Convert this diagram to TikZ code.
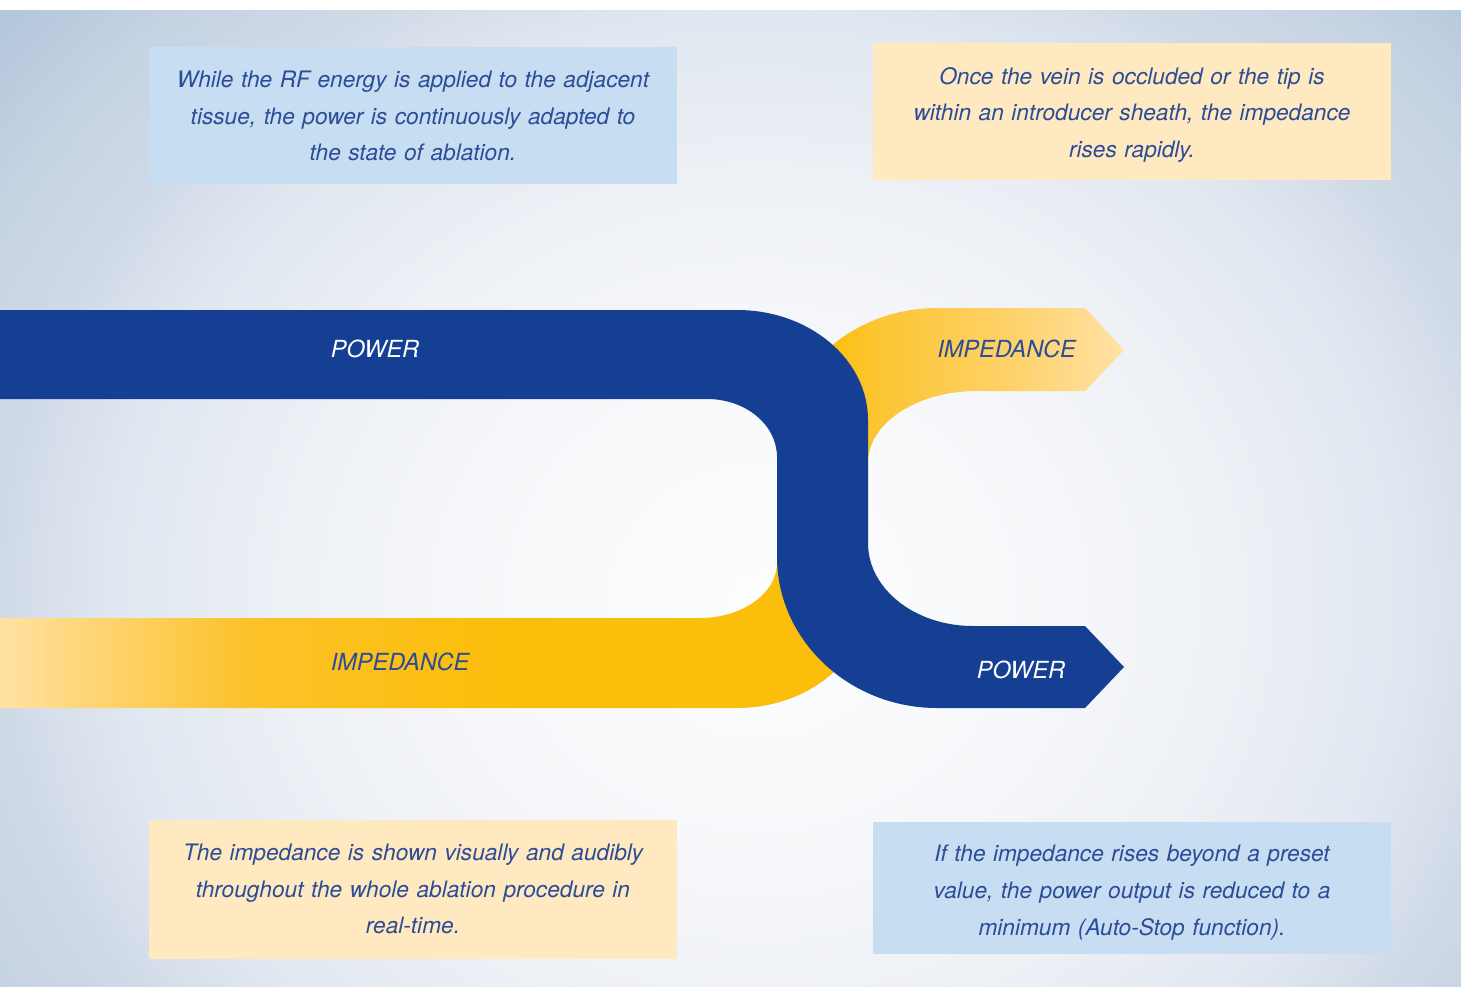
\documentclass[tikz,border=0pt]{standalone}
\usepackage{fontspec}
\setmainfont{TeX Gyre Heros}
\definecolor{pblue}{HTML}{143F93}
\definecolor{ptext}{HTML}{2C4C97}
\definecolor{boxblue}{HTML}{C7DDF2}
\definecolor{boxyel}{HTML}{FFE9C0}
\definecolor{bg0}{HTML}{FCFDFD}
\definecolor{bg1}{HTML}{F8F9FB}
\definecolor{bg2}{HTML}{EDF0F5}
\definecolor{bg3}{HTML}{E1E8F1}
\definecolor{bg4}{HTML}{D0DAE7}
\definecolor{bg5}{HTML}{C4D2E2}
\definecolor{bg6}{HTML}{B4C6DC}
\definecolor{bg7}{HTML}{A6BBD8}
\definecolor{y0}{HTML}{FFE1A2}
\definecolor{y1}{HTML}{FCC22A}
\definecolor{y2}{HTML}{FBBE0A}
\definecolor{y3}{HTML}{FCC532}
\definecolor{y4}{HTML}{FED26A}
\definecolor{y5}{HTML}{FFE2A6}
\pgfdeclareradialshading{bgshade}{\pgfpoint{0bp}{0bp}}{color(0bp)=(bg0); color(6bp)=(bg1); color(12bp)=(bg2); color(16bp)=(bg3); color(19bp)=(bg4); color(22bp)=(bg5); color(25bp)=(bg6); color(50bp)=(bg7)}
\pgfdeclarehorizontalshading{yelshade}{100bp}{color(0bp)=(y0); color(25bp)=(y0); color(36bp)=(y1); color(47bp)=(y2); color(61.5bp)=(y2); color(64bp)=(y3); color(70bp)=(y4); color(75bp)=(y5); color(100bp)=(y5)}
\tikzset{
  infobox/.style={inner sep=0pt, minimum width=#1, text width=#1, align=center,
    font=\fontsize{12.9}{21}\selectfont\itshape, text=ptext},
  bandlabel/.style={inner sep=0pt, font=\fontsize{13.4}{15}\selectfont\itshape},
}
\begin{document}
\begin{tikzpicture}[x=0.02cm,y=-0.02cm]
\useasboundingbox (0,0) rectangle (1461,987);
\fill[white] (0,0) rectangle (1461,987);
\begin{scope}
  \clip (0,10) rectangle (1461,987);
  \shade[shading=bgshade] (-240,-300) rectangle (1760,1500);
\end{scope}

% yellow IMPEDANCE band
\shade[shading=yelshade]
  (0,618) -- (700,618)
  .. controls (742.5,618) and (777,593) .. (777,563)
  -- (777,459)
  .. controls (777,376) and (849,308) .. (937,308)
  -- (1085,308) -- (1124,350) -- (1085,391) -- (977,391)
  .. controls (917,391) and (868,423) .. (868,463)
  -- (868,598)
  .. controls (868,659) and (809,708) .. (737,708)
  -- (0,708) -- cycle;

% blue POWER band
\fill[pblue]
  (0,310) -- (737,310)
  .. controls (809,310) and (868,359) .. (868,420)
  -- (868,543)
  .. controls (868,589) and (915,626) .. (973,626)
  -- (1085,626) -- (1124,667) -- (1085,708) -- (937,708)
  .. controls (849,708) and (777,640) .. (777,557)
  -- (777,457)
  .. controls (777,425) and (746,399) .. (707,399)
  -- (0,399) -- cycle;

% band labels
\node[bandlabel, text=white] (powerL) at (375,349) {POWER};
\node[bandlabel, text=ptext] (impL) at (400,662) {IMPEDANCE};
\node[bandlabel, text=ptext] (impR) at (1006.5,349) {IMPEDANCE};
\node[bandlabel, text=white] (powerR) at (1021,670) {POWER};

% info boxes
\fill[boxblue] (149,47) rectangle (677,184);
\node[infobox=10.56cm] (box1) at (413,116) {While the RF energy is applied to the adjacent\\tissue, the power is continuously adapted to\\the state of ablation.};
\fill[boxyel] (873,43) rectangle (1391,180);
\node[infobox=10.36cm] (box2) at (1132,115) {Once the vein is occluded or the tip is\\within an introducer sheath, the impedance\\rises rapidly.};
\fill[boxyel] (149,820) rectangle (677,959);
\node[infobox=10.56cm] (box3) at (413,889) {The impedance is shown visually and audibly\\throughout the whole ablation procedure in\\real-time.};
\fill[boxblue] (873,822) rectangle (1391,954);
\node[infobox=10.36cm] (box4) at (1132,892.5) {If the impedance rises beyond a preset\\value, the power output is reduced to a\\minimum (Auto-Stop function).};
\end{tikzpicture}
\end{document}
